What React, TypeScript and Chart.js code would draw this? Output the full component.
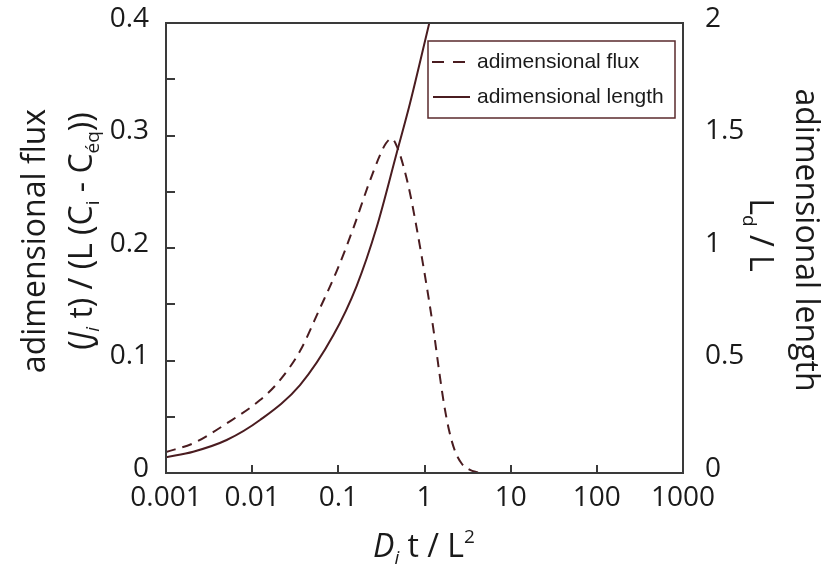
import React, { useEffect, useRef } from 'react';
import { Chart, registerables } from 'chart.js';

Chart.register(...registerables);

// ---- data ----
const xTickValues = [0.001, 0.01, 0.1, 1, 10, 100, 1000];
const xTickLabels = ['0.001', '0.01', '0.1', '1', '10', '100', '1000'];
const fluxTickValues = [0, 0.1, 0.2, 0.3, 0.4];
const fluxTickLabels = ['0', '0.1', '0.2', '0.3', '0.4'];
const fluxMinorTicks = [0.05, 0.1, 0.15, 0.2, 0.25, 0.3, 0.35];
const lengthTickValues = [0, 0.5, 1, 1.5, 2];
const lengthTickLabels = ['0', '0.5', '1', '1.5', '2'];

const seriesNames = ['adimensional flux', 'adimensional length'];

const fluxX = [0.001, 0.00207, 0.00506, 0.01233, 0.0201, 0.0359, 0.0613, 0.0957, 0.1492, 0.2227, 0.3044, 0.3573, 0.416, 0.4927, 0.578, 0.679, 0.796, 0.935, 1.098, 1.288, 1.473, 1.684, 1.924, 2.259, 2.724, 3.373, 4.176];
const fluxY = [0.0187, 0.0264, 0.0441, 0.0648, 0.0808, 0.1084, 0.1466, 0.1794, 0.2176, 0.2558, 0.2825, 0.2931, 0.2973, 0.2878, 0.2709, 0.2487, 0.2212, 0.191, 0.159, 0.1244, 0.0915, 0.0613, 0.0382, 0.0195, 0.008, 0.0027, 0.0004];

const lengthX = [0.001, 0.00207, 0.00506, 0.01233, 0.0359, 0.0877, 0.163, 0.279, 0.475, 0.679, 1.137];
const lengthY = [0.0697, 0.0946, 0.1466, 0.2354, 0.391, 0.613, 0.831, 1.093, 1.421, 1.643, 2.0];

// ---- style ----
const LINE = '#4a1c20';
const AXIS = '#3a3a3a';
const TEXT = '#1a1a1a';
const FONT = '"Open Sans", "DejaVu Sans", sans-serif';
const LEGEND_FONT = '"Liberation Sans", Arial, sans-serif';

type Seg = { t: string; it?: boolean; sub?: boolean; sup?: boolean };

function drawRich(ctx: CanvasRenderingContext2D, segs: Seg[], cx: number, cy: number, rot: number, size: number) {
  ctx.save();
  ctx.translate(cx, cy);
  ctx.rotate(rot);
  const fontFor = (s: Seg) => `${s.it ? 'italic ' : ''}${s.sub || s.sup ? Math.round(size * 0.6) : size}px ${FONT}`;
  let total = 0;
  const widths = segs.map((s) => {
    ctx.font = fontFor(s);
    const w = ctx.measureText(s.t).width;
    total += w;
    return w;
  });
  let x = -total / 2;
  ctx.textBaseline = 'alphabetic';
  ctx.textAlign = 'left';
  ctx.fillStyle = TEXT;
  const baseY = size * 0.36;
  segs.forEach((s, i) => {
    ctx.font = fontFor(s);
    let dy = baseY;
    if (s.sub) dy += size * 0.22;
    if (s.sup) dy -= size * 0.42;
    ctx.fillText(s.t, x, dy);
    x += widths[i];
  });
  ctx.restore();
}

const decorPlugin = {
  id: 'decor',
  afterDraw(chart: any) {
    const ctx: CanvasRenderingContext2D = chart.ctx;
    const { left, right, top, bottom } = chart.chartArea;
    const xs = chart.scales.x;
    const ys = chart.scales.y;
    ctx.save();
    // frame
    ctx.strokeStyle = AXIS;
    ctx.lineWidth = 2;
    ctx.strokeRect(left, top, right - left, bottom - top);
    // inward ticks, bottom axis
    ctx.beginPath();
    xTickValues.slice(1, -1).forEach((v) => {
      const px = Math.round(xs.getPixelForValue(v));
      ctx.moveTo(px, bottom);
      ctx.lineTo(px, bottom - 8);
    });
    // inward ticks, left axis
    fluxMinorTicks.forEach((v) => {
      const py = Math.round(ys.getPixelForValue(v));
      ctx.moveTo(left, py);
      ctx.lineTo(left + 9, py);
    });
    ctx.stroke();

    // legend
    const lx = 428, ly = 41, lw = 247, lh = 77;
    ctx.fillStyle = '#ffffff';
    ctx.fillRect(lx, ly, lw, lh);
    ctx.strokeStyle = '#5a2a2c';
    ctx.lineWidth = 1.5;
    ctx.strokeRect(lx, ly, lw, lh);
    const rows = [62, 97];
    ctx.strokeStyle = LINE;
    ctx.lineWidth = 2;
    ctx.setLineDash([12, 9]);
    ctx.beginPath();
    ctx.moveTo(432, rows[0]);
    ctx.lineTo(470, rows[0]);
    ctx.stroke();
    ctx.setLineDash([]);
    ctx.beginPath();
    ctx.moveTo(433, rows[1]);
    ctx.lineTo(470, rows[1]);
    ctx.stroke();
    ctx.fillStyle = TEXT;
    ctx.font = `21px ${LEGEND_FONT}`;
    ctx.textBaseline = 'middle';
    ctx.textAlign = 'left';
    ctx.fillText(seriesNames[0], 477, rows[0]);
    ctx.fillText(seriesNames[1], 477, rows[1]);
    ctx.restore();

    // axis titles
    drawRich(ctx, [{ t: 'adimensional flux' }], 33, 241, -Math.PI / 2, 32);
    drawRich(
      ctx,
      [
        { t: '(' },
        { t: 'J', it: true },
        { t: 'i', it: true, sub: true },
        { t: ' t) / (L (C' },
        { t: 'i', sub: true },
        { t: ' - C' },
        { t: 'éq', sub: true },
        { t: '))' },
      ],
      80,
      231,
      -Math.PI / 2,
      32
    );
    drawRich(ctx, [{ t: 'adimensional length' }], 808, 240, Math.PI / 2, 32);
    drawRich(ctx, [{ t: 'L' }, { t: 'd', sub: true }, { t: ' / L' }], 762, 235, Math.PI / 2, 32);
    drawRich(
      ctx,
      [{ t: 'D', it: true }, { t: 'i', it: true, sub: true }, { t: ' t / L' }, { t: '2', sup: true }],
      424,
      545,
      0,
      32
    );
  },
};

export default function App() {
  const ref = useRef<HTMLCanvasElement | null>(null);
  useEffect(() => {
    if (!ref.current) return;
    const tickFont = { family: FONT, size: 28 };
    const chart = new Chart(ref.current, {
      type: 'line',
      data: {
        datasets: [
          {
            label: seriesNames[0],
            data: fluxX.map((x, i) => ({ x, y: fluxY[i] })),
            yAxisID: 'y',
            borderColor: LINE,
            borderWidth: 2,
            borderDash: [10, 7],
            pointRadius: 0,
            cubicInterpolationMode: 'monotone',
            fill: false,
          },
          {
            label: seriesNames[1],
            data: lengthX.map((x, i) => ({ x, y: lengthY[i] })),
            yAxisID: 'y1',
            borderColor: LINE,
            borderWidth: 2,
            pointRadius: 0,
            cubicInterpolationMode: 'monotone',
            fill: false,
          },
        ],
      },
      options: {
        animation: false,
        responsive: true,
        maintainAspectRatio: false,
        layout: { padding: { top: 23, left: 0, right: 0, bottom: 0 } },
        plugins: { legend: { display: false }, tooltip: { enabled: false } },
        scales: {
          x: {
            type: 'logarithmic',
            position: 'bottom',
            min: 0.001,
            max: 1000,
            afterBuildTicks: (s: any) => {
              s.ticks = xTickValues.map((v) => ({ value: v }));
            },
            afterFit: (s: any) => {
              s.height = 95;
              s.paddingLeft = 0;
              s.paddingRight = 0;
              s.paddingTop = 0;
              s.paddingBottom = 0;
            },
            grid: { display: false, drawTicks: false },
            border: { display: false },
            ticks: {
              autoSkip: false,
              maxRotation: 0,
              padding: 8,
              color: TEXT,
              font: tickFont,
              callback: (_v: any, i: number) => xTickLabels[i],
            },
          },
          y: {
            type: 'linear',
            position: 'left',
            min: 0,
            max: 0.4,
            afterBuildTicks: (s: any) => {
              s.ticks = fluxTickValues.map((v) => ({ value: v }));
            },
            afterFit: (s: any) => {
              s.width = 166;
              s.paddingLeft = 0;
              s.paddingRight = 0;
              s.paddingTop = 0;
              s.paddingBottom = 0;
            },
            grid: { display: false, drawTicks: false },
            border: { display: false },
            ticks: {
              padding: 17,
              labelOffset: -4,
              color: TEXT,
              font: tickFont,
              callback: (_v: any, i: number) => fluxTickLabels[i],
            },
          },
          y1: {
            type: 'linear',
            position: 'right',
            min: 0,
            max: 2,
            afterBuildTicks: (s: any) => {
              s.ticks = lengthTickValues.map((v) => ({ value: v }));
            },
            afterFit: (s: any) => {
              s.width = 151;
              s.paddingLeft = 0;
              s.paddingRight = 0;
              s.paddingTop = 0;
              s.paddingBottom = 0;
            },
            grid: { display: false, drawTicks: false },
            border: { display: false },
            ticks: {
              padding: 22,
              labelOffset: -4,
              color: TEXT,
              font: tickFont,
              callback: (_v: any, i: number) => lengthTickLabels[i],
            },
          },
        },
      },
      plugins: [decorPlugin],
    } as any);
    return () => chart.destroy();
  }, []);
  return (
    <div style={{ position: 'absolute', left: 0, top: 0, width: 834, height: 568, background: '#fff' }}>
      <canvas ref={ref} />
    </div>
  );
}
